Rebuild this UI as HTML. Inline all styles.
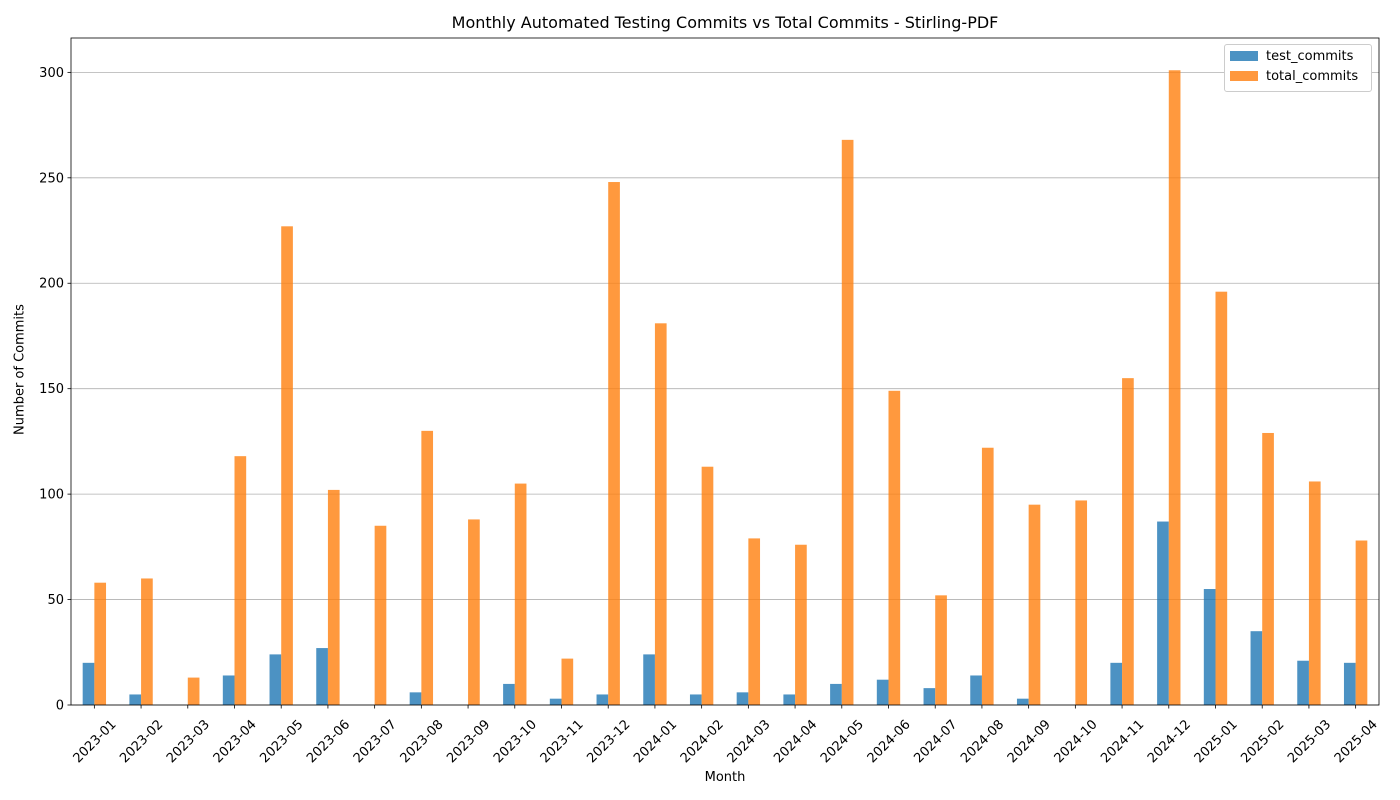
<!DOCTYPE html>
<html><head><meta charset="utf-8"><style>
body{margin:0;background:#fff;}
svg{display:block;font-family:"DejaVu Sans","Liberation Sans",sans-serif;}
</style></head><body>
<svg id="chart" width="1400" height="800"></svg>
<script>
const categories=["2023-01","2023-02","2023-03","2023-04","2023-05","2023-06","2023-07","2023-08","2023-09","2023-10","2023-11","2023-12","2024-01","2024-02","2024-03","2024-04","2024-05","2024-06","2024-07","2024-08","2024-09","2024-10","2024-11","2024-12","2025-01","2025-02","2025-03","2025-04"];
const testCommits=[20,5,0,14,24,27,0,6,0,10,3,5,24,5,6,5,10,12,8,14,3,0,20,87,55,35,21,20];
const totalCommits=[58,60,13,118,227,102,85,130,88,105,22,248,181,113,79,76,268,149,52,122,95,97,155,301,196,129,106,78];
const yTicks=[0,50,100,150,200,250,300];

const svg=document.getElementById('chart');
const NS='http://www.w3.org/2000/svg';
const L=71,R=1379,T=38,B=705,yMax=316.3;
const n=categories.length, step=(R-L)/n;
const xc=i=>L+step*(i+0.5);
const y=v=>B-(v/yMax)*(B-T);
function mk(tag,attrs,parent){const e=document.createElementNS(NS,tag);for(const k in attrs)e.setAttribute(k,attrs[k]);(parent||svg).appendChild(e);return e;}

const grid=mk('g',{});


const yax=mk('g',{});


yTicks.forEach(t=>{
  mk('line',{x1:L,x2:R,y1:y(t),y2:y(t),stroke:'#b0b0b0','stroke-width':0.8},grid);
  mk('line',{x1:L-3.5,x2:L,y1:y(t),y2:y(t),stroke:'#000','stroke-width':0.8},yax);
  const tx=mk('text',{x:L-7,y:y(t)+4.5,'text-anchor':'end','font-size':13},yax);
  tx.textContent=t;
  
  
});
const bars=mk('g',{});
const w=step*0.25;
categories.forEach((c,i)=>{
  const b1=mk('rect',{x:xc(i)-w,y:y(testCommits[i]),width:w,height:B-y(testCommits[i]),fill:'#1f77b4','fill-opacity':0.8},bars);
  
  
  const b2=mk('rect',{x:xc(i),y:y(totalCommits[i]),width:w,height:B-y(totalCommits[i]),fill:'#ff7f0e','fill-opacity':0.8},bars);
  
  
});
const xax=mk('g',{});


categories.forEach((c,i)=>{
  mk('line',{x1:xc(i),x2:xc(i),y1:B,y2:B+3.5,stroke:'#000','stroke-width':0.8},xax);
  const cx=xc(i), cy=B+36;
  const tx=mk('text',{x:cx,y:cy+4.5,'text-anchor':'middle','font-size':13,transform:`rotate(-45 ${cx} ${cy})`},xax);
  tx.textContent=c;
  
  
});
mk('rect',{x:L,y:T,width:R-L,height:B-T,fill:'none',stroke:'#000','stroke-width':0.8});
</script>
<div style="position:absolute;left:0;top:0;width:1400px;height:800px;pointer-events:none;font-family:'DejaVu Sans','Liberation Sans',sans-serif;">
  <div style="position:absolute;left:0;width:1450px;top:13px;text-align:center;font-size:16px;">Monthly Automated Testing Commits vs Total Commits - Stirling-PDF</div>
  <div style="position:absolute;left:625px;width:200px;top:770px;text-align:center;font-size:13px;">Month</div>
  <div style="position:absolute;left:-80px;top:362px;width:200px;text-align:center;font-size:13px;transform:rotate(-90deg);">Number of Commits</div>
  <div style="position:absolute;left:1224px;top:44px;width:146px;height:46px;border:1px solid #ccc;border-radius:3px;background:#fff;font-size:13px;">
    <div style="position:absolute;left:5px;top:4px;"><span style="display:inline-block;width:28px;height:10px;background:#4b92c3;vertical-align:-1px;margin-right:8px;"></span>test_commits</div>
    <div style="position:absolute;left:5px;top:24px;"><span style="display:inline-block;width:28px;height:10px;background:#ff983e;vertical-align:-1px;margin-right:8px;"></span>total_commits</div>
  </div>
</div>
</body></html>
